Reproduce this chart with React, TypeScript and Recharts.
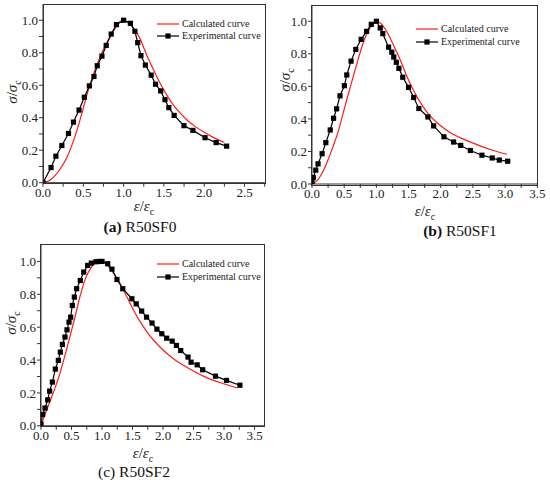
import React from "react";
import { LineChart, Line, XAxis, YAxis } from "recharts";

const FONT = '"Liberation Serif", "Times New Roman", serif';

// strain ratio / stress ratio pairs
const expA: [number, number][] = [
  [0, 0], [0.1, 0.093], [0.16, 0.163], [0.234, 0.229], [0.316, 0.303], [0.378, 0.373],
  [0.447, 0.447], [0.513, 0.526], [0.575, 0.596], [0.632, 0.654], [0.673, 0.72],
  [0.731, 0.779], [0.784, 0.845], [0.846, 0.915], [0.911, 0.973], [1.0, 1.0],
  [1.084, 0.981], [1.14, 0.932], [1.175, 0.862], [1.215, 0.782], [1.27, 0.724],
  [1.342, 0.662], [1.396, 0.606], [1.46, 0.565], [1.513, 0.511], [1.561, 0.462],
  [1.627, 0.414], [1.749, 0.351], [1.86, 0.322], [2.01, 0.277], [2.148, 0.247], [2.278, 0.225],
];
const calcA: [number, number][] = [
  [0, 0], [0.1, 0.02], [0.2, 0.075], [0.3, 0.16], [0.4, 0.29], [0.45, 0.37], [0.5, 0.46],
  [0.55, 0.55], [0.6, 0.63], [0.7, 0.765], [0.8, 0.87], [0.9, 0.955], [0.95, 0.99], [1.0, 1.0],
  [1.05, 0.99], [1.1, 0.965], [1.15, 0.935], [1.2, 0.89], [1.3, 0.77], [1.4, 0.665],
  [1.5, 0.57], [1.6, 0.49], [1.7, 0.43], [1.8, 0.38], [1.9, 0.342], [2.0, 0.31],
  [2.1, 0.282], [2.25, 0.247],
];

const expB: [number, number][] = [
  [0, 0.01], [0.02, 0.04], [0.058, 0.085], [0.094, 0.124], [0.157, 0.186], [0.215, 0.254],
  [0.283, 0.332], [0.335, 0.404], [0.382, 0.462], [0.435, 0.542], [0.503, 0.604],
  [0.54, 0.67], [0.607, 0.755], [0.68, 0.827], [0.764, 0.889], [0.848, 0.938],
  [0.921, 0.981], [1.0, 1.0], [1.06, 0.959], [1.1, 0.924], [1.19, 0.841], [1.24, 0.81],
  [1.27, 0.78], [1.31, 0.748], [1.35, 0.711], [1.41, 0.656], [1.5, 0.594],
  [1.58, 0.532], [1.66, 0.464], [1.8, 0.412], [1.89, 0.357], [2.05, 0.29],
  [2.2, 0.258], [2.31, 0.237], [2.46, 0.206], [2.64, 0.177], [2.8, 0.16],
  [2.91, 0.147], [3.04, 0.14],
];
const calcB: [number, number][] = [
  [0, 0], [0.094, 0.027], [0.173, 0.078], [0.25, 0.15], [0.33, 0.233], [0.41, 0.326],
  [0.487, 0.44], [0.565, 0.553], [0.644, 0.666], [0.72, 0.77], [0.8, 0.873], [0.88, 0.945],
  [0.96, 0.99], [1.0, 1.0], [1.06, 0.99], [1.166, 0.934], [1.27, 0.85], [1.375, 0.759],
  [1.48, 0.656], [1.58, 0.573], [1.685, 0.5], [1.81, 0.429], [1.97, 0.367], [2.15, 0.315],
  [2.36, 0.274], [2.62, 0.233], [2.82, 0.206], [3.03, 0.183],
];

const expC: [number, number][] = [
  [0, 0.01], [0.027, 0.069], [0.066, 0.108], [0.11, 0.158], [0.142, 0.211], [0.186, 0.266],
  [0.235, 0.345], [0.284, 0.398], [0.317, 0.448], [0.35, 0.495], [0.393, 0.54],
  [0.426, 0.584], [0.459, 0.631], [0.486, 0.661], [0.513, 0.732], [0.546, 0.783],
  [0.584, 0.834], [0.644, 0.884], [0.7, 0.935], [0.765, 0.976], [0.825, 0.99],
  [0.9, 0.998], [0.956, 1.0], [1.0, 1.0], [1.093, 0.986], [1.163, 0.953], [1.245, 0.89],
  [1.34, 0.834], [1.49, 0.773], [1.56, 0.742], [1.65, 0.698], [1.73, 0.661], [1.82, 0.625],
  [1.9, 0.588], [1.98, 0.56], [2.06, 0.533], [2.15, 0.515], [2.22, 0.489], [2.29, 0.458],
  [2.41, 0.418], [2.46, 0.387], [2.56, 0.371], [2.65, 0.341], [2.86, 0.302], [3.04, 0.276],
  [3.26, 0.247],
];
const calcC: [number, number][] = [
  [0, 0], [0.07, 0.073], [0.153, 0.154], [0.235, 0.235], [0.317, 0.327], [0.4, 0.438],
  [0.48, 0.55], [0.563, 0.671], [0.644, 0.793], [0.726, 0.894], [0.808, 0.955],
  [0.89, 0.99], [0.95, 1.0], [1.0, 1.0], [1.136, 0.955], [1.27, 0.884], [1.41, 0.783],
  [1.52, 0.702], [1.63, 0.631], [1.74, 0.57], [1.85, 0.519], [2.01, 0.458], [2.17, 0.408],
  [2.34, 0.367], [2.5, 0.333], [2.66, 0.302], [2.83, 0.276], [2.99, 0.256], [3.22, 0.23],
];

const xTicksA = [0, 0.25, 0.5, 0.75, 1, 1.25, 1.5, 1.75, 2, 2.25, 2.5, 2.75];
const xTicksBC = [0, 0.25, 0.5, 0.75, 1, 1.25, 1.5, 1.75, 2, 2.25, 2.5, 2.75, 3, 3.25, 3.5];
const yTicks = [0, 0.1, 0.2, 0.3, 0.4, 0.5, 0.6, 0.7, 0.8, 0.9, 1.0];
const legendNames = ["Calculated curve", "Experimental curve"];

const toPts = (arr: [number, number][]) => arr.map(([x, y]) => ({ x, y }));

const Square = (p: any) =>
  p.cx == null ? <g /> : <rect x={p.cx - 2.6} y={p.cy - 2.6} width={5.2} height={5.2} fill="#000" />;

const tickStyle = { fontFamily: FONT, fontSize: 13, fill: "#222" };
const halfFmt = (v: number) => (Math.abs(v * 2 - Math.round(v * 2)) < 1e-6 ? v.toFixed(1) : "");
const fifthFmt = (v: number) => (Math.abs(v * 5 - Math.round(v * 5)) < 1e-6 ? v.toFixed(1) : "");

type PanelProps = {
  exp: [number, number][];
  calc: [number, number][];
  xMax: number;
  xTicks: number[];
  plot: { x0: number; x1: number; y0: number; y1: number };
  legend: { x: number; y: number };
  yLabel: { x: number; y: number };
  xLabel: { x: number; y: number };
  caption: { x: number; y: number; tag: string; name: string; bold: boolean };
};

function Panel({ exp, calc, xMax, xTicks, plot, legend, yLabel, xLabel, caption }: PanelProps) {
  const padL = 40;
  const padT = 4;
  const w = plot.x1 - plot.x0 + padL + 10;
  const h = plot.y1 - plot.y0 + padT + 30;
  return (
    <>
      <div style={{ position: "absolute", left: plot.x0 - padL, top: plot.y0 - padT }}>
        <LineChart width={w} height={h} margin={{ top: padT, right: 10, bottom: 10, left: padL - 34 }}>
          <XAxis
            type="number"
            dataKey="x"
            domain={[0, xMax]}
            ticks={xTicks}
            tickFormatter={halfFmt}
            interval={0}
            allowDataOverflow
            height={20}
            tickSize={4}
            tickMargin={1}
            tick={tickStyle}
            stroke="#333"
          />
          <YAxis
            type="number"
            dataKey="y"
            domain={[0, 1.1]}
            ticks={yTicks}
            tickFormatter={fifthFmt}
            interval={0}
            allowDataOverflow
            width={34}
            tickSize={4}
            tickMargin={1}
            tick={tickStyle}
            stroke="#333"
          />
          <Line
            data={toPts(calc)}
            dataKey="y"
            type="monotone"
            stroke="#ff1a1a"
            strokeWidth={1.2}
            dot={false}
            isAnimationActive={false}
          />
          <Line
            data={toPts(exp)}
            dataKey="y"
            type="linear"
            stroke="#000"
            strokeWidth={1.2}
            dot={<Square />}
            isAnimationActive={false}
          />
        </LineChart>
      </div>
      {/* plot frame (top and right edges) */}
      <div
        style={{
          position: "absolute",
          left: plot.x0 - 0.5,
          top: plot.y0 - 0.5,
          width: plot.x1 - plot.x0,
          height: plot.y1 - plot.y0,
          border: "1px solid #333",
          pointerEvents: "none",
        }}
      />
      <div style={{ position: "absolute", left: legend.x, top: legend.y, fontFamily: FONT, fontSize: 10, color: "#222", lineHeight: "12.5px" }}>
        <div style={{ display: "flex", alignItems: "center" }}>
          <svg width={23} height={8} style={{ marginRight: 2 }}>
            <line x1={0} y1={4} x2={22} y2={4} stroke="#ff1a1a" strokeWidth={1.2} />
          </svg>
          <span>{legendNames[0]}</span>
        </div>
        <div style={{ display: "flex", alignItems: "center" }}>
          <svg width={23} height={8} style={{ marginRight: 2 }}>
            <line x1={0} y1={4} x2={22} y2={4} stroke="#000" strokeWidth={1.2} />
            <rect x={8.4} y={1.4} width={5.2} height={5.2} fill="#000" />
          </svg>
          <span>{legendNames[1]}</span>
        </div>
      </div>
      <div
        style={{
          position: "absolute",
          left: yLabel.x,
          top: yLabel.y,
          transform: "translate(-50%, -50%) rotate(-90deg)",
          fontFamily: FONT,
          fontSize: 15,
          color: "#222",
          whiteSpace: "nowrap",
          lineHeight: "15px",
        }}
      >
        <i>σ</i>/<i>σ</i>
        <sub style={{ fontSize: 10, lineHeight: 0 }}>c</sub>
      </div>
      <div
        style={{
          position: "absolute",
          left: xLabel.x,
          top: xLabel.y,
          transform: "translate(-50%, -50%)",
          fontFamily: FONT,
          fontSize: 15,
          color: "#222",
          whiteSpace: "nowrap",
          lineHeight: "15px",
        }}
      >
        <i>ε</i>/<i>ε</i>
        <sub style={{ fontSize: 10, lineHeight: 0 }}>c</sub>
      </div>
      <div
        style={{
          position: "absolute",
          left: caption.x,
          top: caption.y,
          transform: "translate(-50%, -50%)",
          fontFamily: FONT,
          fontSize: 15.5,
          color: "#111",
          whiteSpace: "nowrap",
        }}
      >
        <span style={{ fontWeight: caption.bold ? 700 : 400 }}>{caption.tag}</span> {caption.name}
      </div>
    </>
  );
}

export default function App() {
  return (
    <div style={{ position: "fixed", left: 0, top: 0, width: 550, height: 484, background: "#fff", overflow: "hidden" }}>
      <Panel
        exp={expA}
        calc={calcA}
        xMax={2.75}
        xTicks={xTicksA}
        plot={{ x0: 43.3, x1: 265, y0: 4, y1: 182.7 }}
        legend={{ x: 157, y: 17.5 }}
        yLabel={{ x: 12, y: 92 }}
        xLabel={{ x: 144, y: 206 }}
        caption={{ x: 140, y: 227, tag: "(a)", name: "R50SF0", bold: true }}
      />
      <Panel
        exp={expB}
        calc={calcB}
        xMax={3.5}
        xTicks={xTicksBC}
        plot={{ x0: 311.7, x1: 537, y0: 5.3, y1: 184.3 }}
        legend={{ x: 416, y: 23 }}
        yLabel={{ x: 285, y: 80 }}
        xLabel={{ x: 425, y: 211 }}
        caption={{ x: 460, y: 231, tag: "(b)", name: "R50SF1", bold: true }}
      />
      <Panel
        exp={expC}
        calc={calcC}
        xMax={3.66}
        xTicks={xTicksBC}
        plot={{ x0: 40.7, x1: 264, y0: 244.5, y1: 425.3 }}
        legend={{ x: 157, y: 258 }}
        yLabel={{ x: 11, y: 323 }}
        xLabel={{ x: 143, y: 453 }}
        caption={{ x: 134, y: 472, tag: "(c)", name: "R50SF2", bold: false }}
      />
    </div>
  );
}
